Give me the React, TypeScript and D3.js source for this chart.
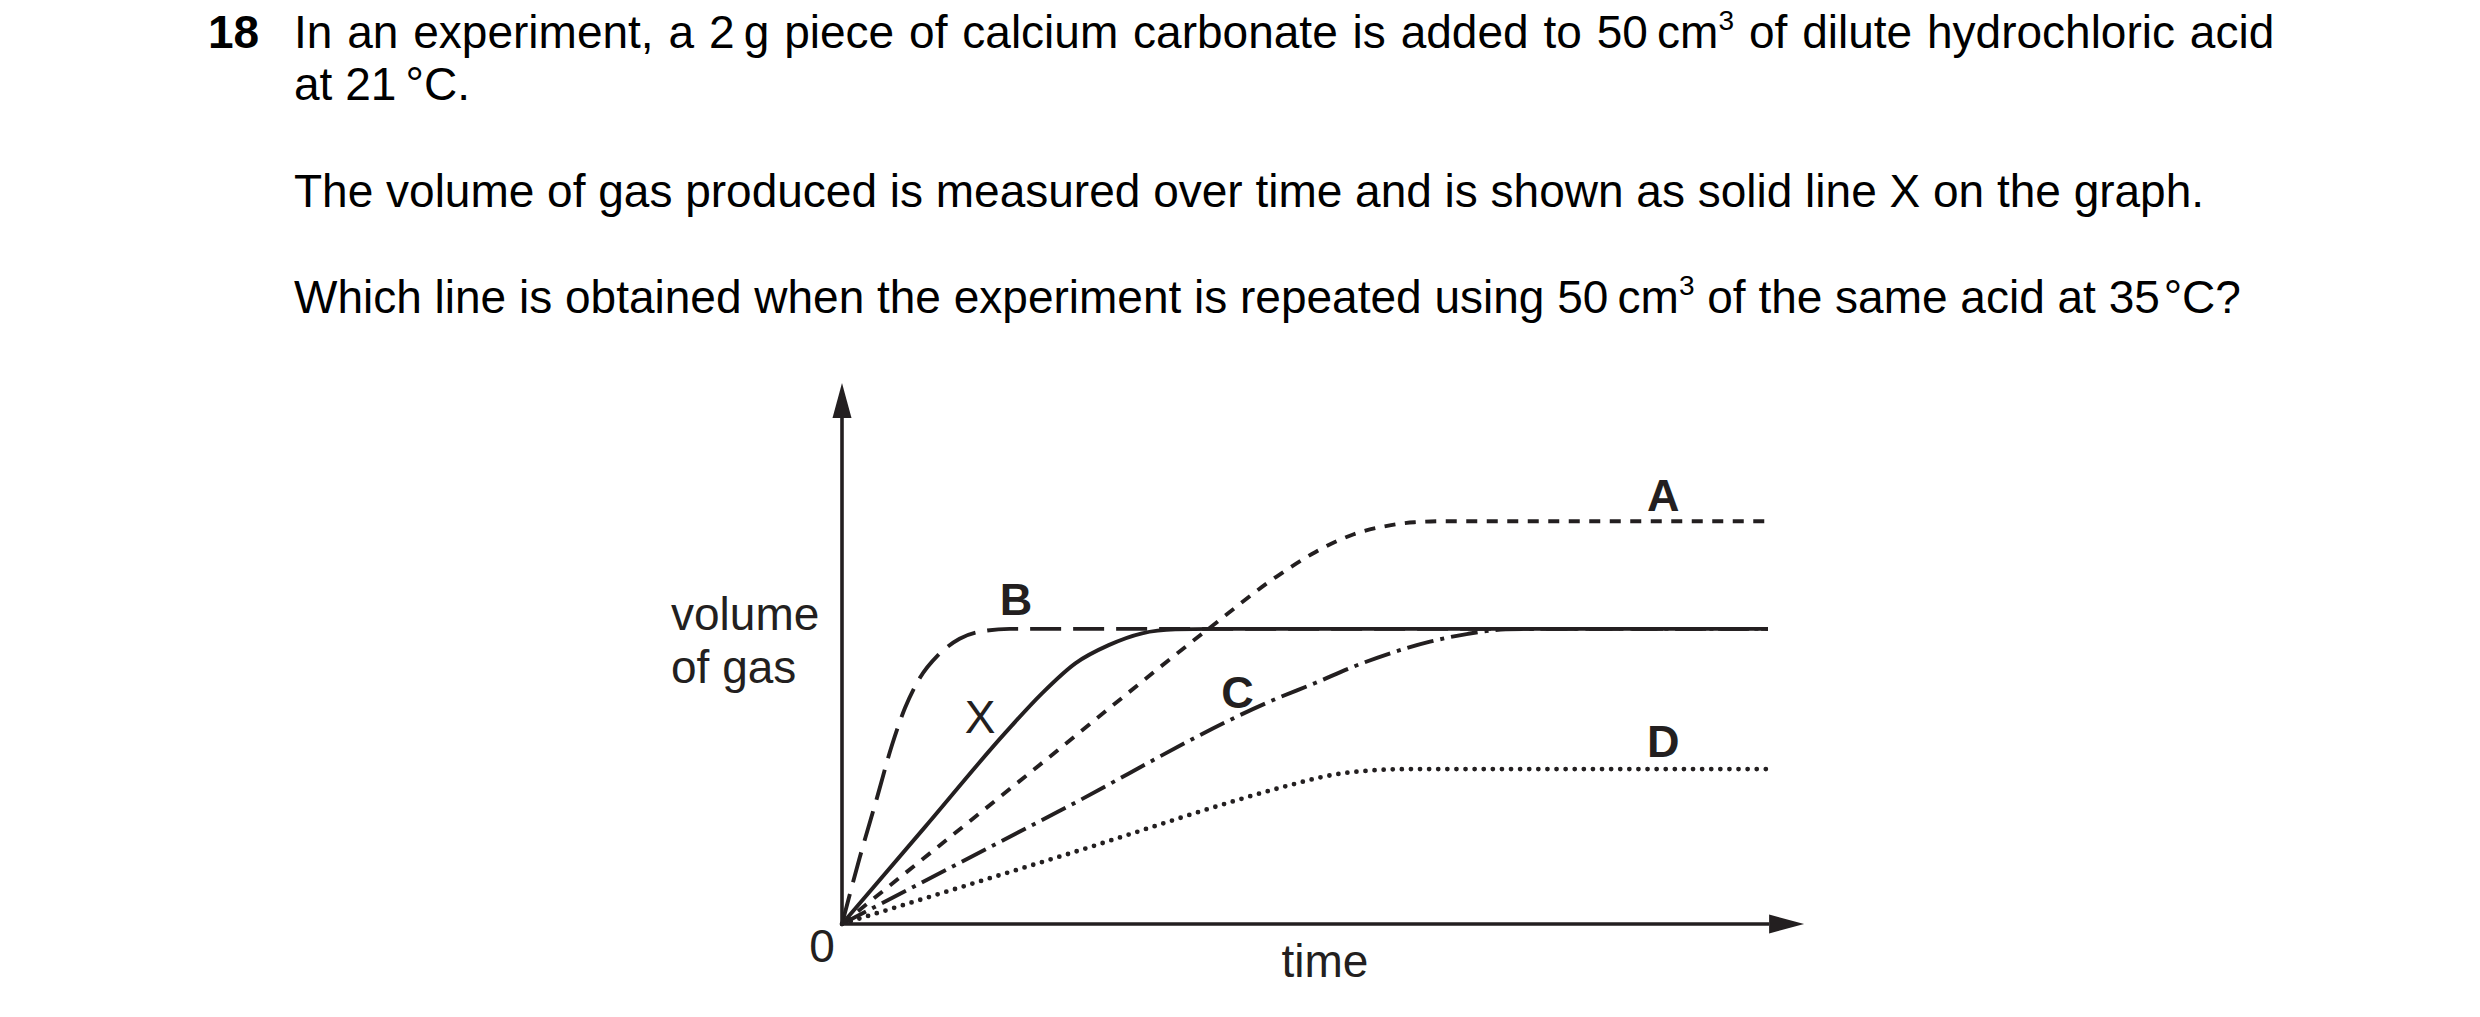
import React from "react";
import * as d3 from "d3";

const WIDTH = 2480;
const HEIGHT = 1017;

// ---------- question text ----------
const questionNumber = "18";
const questionLines = [
  [
    { t: "In an experiment, a 2\u2009g piece of calcium carbonate is added to 50\u2009cm" },
    { t: "3", sup: true },
    { t: " of dilute hydrochloric acid" },
  ],
  [{ t: "at 21\u2009°C." }],
  [{ t: "The volume of gas produced is measured over time and is shown as solid line X on the graph." }],
  [
    { t: "Which line is obtained when the experiment is repeated using 50\u2009cm" },
    { t: "3", sup: true },
    { t: " of the same acid at 35\u200a°C?" },
  ],
];
const questionBaselines = [47.5, 100, 207, 313];
const questionWordSpacing = [2.1, 0, 0, 0];

// ---------- chart data (time units, volume units) ----------
const timeDomain = [0, 10];
const volumeDomain = [0, 11];
const timeAxisEnd = 10.39;
const volumeAxisEnd = 11;

const lineX = [
  [0, 0], [0.9, 1.98], [1.76, 3.88], [2.16, 4.69], [2.52, 5.3], [2.88, 5.67],
  [3.24, 5.91], [3.6, 5.99], [4.0, 6.0], [10, 6.0],
];
const lineA = [
  [0, 0], [2.0, 3.03], [3.97, 6.02], [4.69, 7.06], [5.11, 7.56], [5.52, 7.92],
  [5.93, 8.11], [6.18, 8.17], [6.51, 8.19], [10, 8.19],
];
const lineB = [
  [0, 0], [0.19, 1.34], [0.38, 2.58], [0.54, 3.64], [0.68, 4.39], [0.84, 5.0],
  [1.04, 5.47], [1.27, 5.8], [1.54, 5.96], [1.81, 6.0], [10, 6.0],
];
const lineC = [
  [0, 0], [2.3, 2.25], [4.69, 4.58], [5.11, 4.9], [5.52, 5.23], [5.93, 5.51],
  [6.35, 5.74], [6.76, 5.9], [7.17, 5.99], [7.58, 6.0], [10, 6.0],
];
const lineD = [
  [0, 0], [2.4, 1.4], [4.89, 2.85], [5.16, 2.98], [5.43, 3.07], [5.7, 3.12],
  [6.03, 3.148], [6.35, 3.15], [10, 3.15],
];

const seriesNames = ["A", "B", "C", "D", "X"];
const seriesData = [lineA, lineB, lineC, lineD, lineX];
const seriesDash = ["11 9.5", "31 12", "27 7 4 7", "0 9.1", null];

const labelNames = ["A", "B", "C", "D", "X"];
const labelTimes = [8.87, 1.88, 4.27, 8.87, 1.49];
const labelVolumes = [8.4, 6.28, 4.39, 3.4, 3.88];
const labelBold = [true, true, true, true, false];

const INK = "#231f20";
const FONT = "'Liberation Sans', Arial, Helvetica, sans-serif";

export default function App() {
  const x = d3.scaleLinear().domain(timeDomain).range([842, 1768]);
  const y = d3.scaleLinear().domain(volumeDomain).range([924, 383]);

  const line = d3
    .line<number[]>()
    .x((d) => x(d[0]))
    .y((d) => y(d[1]))
    .curve(d3.curveMonotoneX);

  const x0 = x(0);
  const y0 = y(0);
  const xEnd = x(timeAxisEnd);
  const yEnd = y(volumeAxisEnd);
  const arrowLen = 35;
  const arrowHalf = 9.5;

  return (
    <svg
      width={WIDTH}
      height={HEIGHT}
      viewBox={`0 0 ${WIDTH} ${HEIGHT}`}
      style={{ position: "absolute", left: 0, top: 0, display: "block", background: "#fff" }}
      fontFamily={FONT}
    >
      <rect x={0} y={0} width={WIDTH} height={HEIGHT} fill="#fff" />

      {/* question */}
      <text x={208} y={questionBaselines[0]} fontSize={46} fontWeight="bold" fill="#000">
        {questionNumber}
      </text>
      {questionLines.map((segs, i) => (
        <text
          key={i}
          x={294}
          y={questionBaselines[i]}
          fontSize={46}
          fill="#000"
          style={{ wordSpacing: `${questionWordSpacing[i]}px` }}
        >
          {segs.map((s, j) =>
            s.sup ? (
              <tspan key={j} fontSize={28} dy={-18}>
                {s.t}
              </tspan>
            ) : (
              <tspan key={j} dy={j > 0 && segs[j - 1].sup ? 18 : 0}>
                {s.t}
              </tspan>
            )
          )}
        </text>
      ))}

      {/* curves */}
      {seriesData.map((d, i) => (
        <path
          key={seriesNames[i]}
          d={line(d as number[][]) || ""}
          fill="none"
          stroke={INK}
          strokeWidth={seriesNames[i] === "D" ? 4.8 : 3.9}
          strokeDasharray={seriesDash[i] || undefined}
          strokeLinecap={seriesNames[i] === "D" ? "round" : "butt"}
          strokeLinejoin="round"
        />
      ))}

      {/* axes */}
      <line x1={x0} y1={y0} x2={x0} y2={yEnd + arrowLen} stroke={INK} strokeWidth={3.6} />
      <line x1={x0 - 1.8} y1={y0} x2={xEnd - arrowLen} y2={y0} stroke={INK} strokeWidth={3.6} />
      <path
        d={`M${x0},${yEnd} L${x0 - arrowHalf},${yEnd + arrowLen} L${x0 + arrowHalf},${yEnd + arrowLen} Z`}
        fill={INK}
      />
      <path
        d={`M${xEnd},${y0} L${xEnd - arrowLen},${y0 - arrowHalf} L${xEnd - arrowLen},${y0 + arrowHalf} Z`}
        fill={INK}
      />

      {/* axis labels */}
      <text x={671} y={630} fontSize={46} fill={INK}>volume</text>
      <text x={671} y={683} fontSize={46} fill={INK}>of gas</text>
      <text x={822} y={962} fontSize={46} fill={INK} textAnchor="middle">0</text>
      <text x={1325} y={977} fontSize={46} fill={INK} textAnchor="middle">time</text>

      {/* line labels */}
      {labelNames.map((n, i) => (
        <text
          key={n}
          x={x(labelTimes[i])}
          y={y(labelVolumes[i])}
          fontSize={labelBold[i] ? 45 : 46}
          fontWeight={labelBold[i] ? "bold" : "normal"}
          fill={INK}
          textAnchor="middle"
        >
          {n}
        </text>
      ))}
    </svg>
  );
}
